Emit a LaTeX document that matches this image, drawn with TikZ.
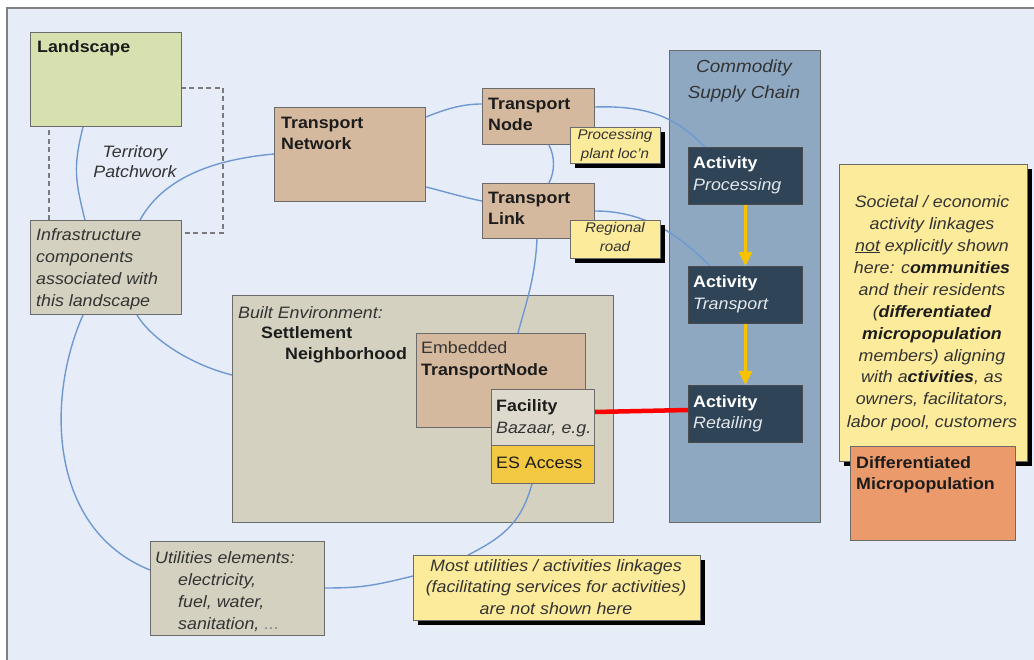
\documentclass[tikz,border=0pt]{standalone}
\usepackage{fontspec}
\setmainfont{Liberation Sans}[FakeStretch=1.08]
\usetikzlibrary{arrows.meta,shadows}

\definecolor{canvas}{HTML}{E6EDF8}
\definecolor{framegray}{HTML}{808080}
\definecolor{edgegray}{HTML}{6B6B6B}
\definecolor{landgreen}{HTML}{D6E1AF}
\definecolor{infragray}{HTML}{D4D1C1}
\definecolor{tanbox}{HTML}{D5B99E}
\definecolor{notey}{HTML}{FCEB9B}
\definecolor{chainblue}{HTML}{8EA8C2}
\definecolor{actdark}{HTML}{2F4457}
\definecolor{salmon}{HTML}{EA9A6B}
\definecolor{esyellow}{HTML}{F3C842}
\definecolor{linkblue}{HTML}{6F98D2}
\definecolor{flow}{HTML}{F7C300}
\definecolor{ink}{HTML}{1C1C1C}
\definecolor{softink}{HTML}{333333}
\definecolor{paleink}{HTML}{E4E8EC}

\pgfdeclarelayer{under}
\pgfdeclarelayer{links}
\pgfsetlayers{under,links,main}

% multi-line text nodes are anchored at the baseline of their last line
\tikzset{
  box/.style={draw=edgegray, line width=1pt, inner sep=0pt, anchor=north west},
  notebox/.style={box, fill=notey,
    drop shadow={shadow xshift=4.5pt, shadow yshift=-4.5pt, fill=black, opacity=1}},
  actbox/.style={box, draw=black!70, fill=actdark, minimum width=114pt, minimum height=57pt},
  conn/.style={draw=linkblue, line width=1.4pt},
  flowarrow/.style={draw=flow, line width=3pt, -{Triangle[width=13pt,length=14pt]}},
  txt/.style={inner sep=0pt, anchor=base west, align=left, text=ink,
    font=\fontsize{16.5}{21.5}\selectfont},
  itxt/.style={txt, text=softink, font=\fontsize{16.5}{21.5}\selectfont\itshape},
  ctxt/.style={txt, anchor=base, align=center},
  btxt/.style={txt, font=\fontsize{16.5}{21.5}\selectfont\bfseries},
}

\begin{document}
\begin{tikzpicture}[x=1pt, y=-1pt]
\useasboundingbox (0,0) rectangle (1034,660);

\begin{pgfonlayer}{under}
  % canvas and its frame
  \fill[white] (0,0) rectangle (1034,660);
  \fill[canvas] (7,8) rectangle (1034,660);
  \draw[framegray, line width=1.8pt] (7,660) -- (7,8) -- (1034,8);
  % territory patchwork frame
  \draw[edgegray!90, line width=1.3pt, dash pattern=on 5pt off 3.5pt] (49,88) rectangle (223,233);
  % large containers
  \node[box, fill=chainblue, minimum width=151pt, minimum height=472pt] (chain) at (669,50) {};
  \node[box, fill=infragray, minimum width=381pt, minimum height=227pt] (benv) at (232,295) {};
\end{pgfonlayer}

% landscape side
\node[box, fill=landgreen, minimum width=151pt, minimum height=94pt] (land) at (30,32) {};
\node[box, fill=infragray, minimum width=151pt, minimum height=94pt] (infra) at (30,220) {};
\node[btxt] (landT) at (37,53) {Landscape};
\node[ctxt, text=softink, font=\fontsize{16.5}{20}\selectfont\itshape] (terrT) at (135,178) {Territory\\Patchwork};
\node[itxt, font=\fontsize{16.5}{22}\selectfont\itshape] (infraT) at (36,307) {Infrastructure\\components\\associated with\\this landscape};

% transport boxes
\node[box, fill=tanbox, minimum width=151pt, minimum height=94pt] (tnet) at (274,107) {};
\node[box, fill=tanbox, minimum width=112pt, minimum height=56pt] (tnode) at (482,88) {};
\node[box, fill=tanbox, minimum width=112pt, minimum height=55pt] (tlink) at (482,183) {};
\node[btxt, font=\fontsize{16.5}{20.5}\selectfont\bfseries] (tnetT) at (281,149.5) {Transport\\Network};
\node[btxt, font=\fontsize{16.5}{21}\selectfont\bfseries] (tnodeT) at (488,131) {Transport\\Node};
\node[btxt, font=\fontsize{16.5}{20.5}\selectfont\bfseries] (tlinkT) at (488,224.5) {Transport\\Link};

% built environment
\node[itxt, font=\fontsize{16.5}{21}\selectfont\itshape] (benvT) at (238,360)
  {Built Environment:\\\hspace*{23pt}{\upshape\bfseries\color{ink}Settlement}\\\hspace*{47pt}{\upshape\bfseries\color{ink}Neighborhood}};
\node[box, fill=tanbox, minimum width=169pt, minimum height=94pt] (emb) at (416,333) {};
\node[txt, text=softink, font=\fontsize{16.5}{22}\selectfont] (embT) at (421,376) {Embedded\\{\bfseries\color{ink}TransportNode}};
\node[box, fill=infragray!80!white, minimum width=103pt, minimum height=56pt] (fac) at (491,389) {};
\node[box, fill=esyellow, minimum width=103pt, minimum height=38pt] (esacc) at (491,445) {};
\node[btxt, font=\fontsize{16.5}{22}\selectfont\bfseries] (facT) at (496,433) {Facility\\{\mdseries\itshape\color{softink}Bazaar, e.g.}};
\node[txt] (esT) at (496,468) {ES Access};

% utilities
\node[box, fill=infragray, minimum width=174pt, minimum height=94pt] (util) at (150,541) {};
\node[itxt, font=\fontsize{16.5}{22}\selectfont\itshape] (utilT) at (155,629)
  {Utilities elements:\\\hspace*{23pt}electricity,\\\hspace*{23pt}fuel, water,\\\hspace*{23pt}sanitation, {\color{softink!60}...}};

% supply chain
\node[ctxt, text=softink, font=\fontsize{17.5}{25.5}\selectfont\itshape] (chainT) at (744,98.5) {Commodity\\Supply Chain};
\node[actbox] (actP) at (688,147) {};
\node[actbox] (actT) at (688,266) {};
\node[actbox] (actR) at (688,385) {};
\node[btxt, text=white, font=\fontsize{16.5}{21.5}\selectfont\bfseries] (actPT) at (693,190.5) {Activity\\{\mdseries\itshape\color{paleink}Processing}};
\node[btxt, text=white, font=\fontsize{16.5}{21.5}\selectfont\bfseries] (actTT) at (693,309.5) {Activity\\{\mdseries\itshape\color{paleink}Transport}};
\node[btxt, text=white, font=\fontsize{16.5}{21.5}\selectfont\bfseries] (actRT) at (693,428.5) {Activity\\{\mdseries\itshape\color{paleink}Retailing}};
\draw[flowarrow] (actP.south) -- (actT.north);
\draw[flowarrow] (actT.south) -- (actR.north);

% notes
\node[notebox, minimum width=90pt, minimum height=36pt] (procN) at (570,127) {};
\node[ctxt, text=softink, font=\fontsize{14}{19}\selectfont\itshape] (procT) at (615,159) {Processing\\plant loc'n};
\node[notebox, minimum width=90pt, minimum height=38pt] (roadN) at (570,220) {};
\node[ctxt, text=softink, font=\fontsize{14}{19}\selectfont\itshape] (roadT) at (615,252) {Regional\\road};

\node[notebox, minimum width=287pt, minimum height=65pt] (most) at (413,555) {};
\node[ctxt, text=softink, font=\fontsize{16.5}{21.5}\selectfont\itshape] (mostT) at (556,614)
  {Most utilities / activities linkages\\(facilitating services for activities)\\are not shown here};

\node[notebox, minimum width=188pt, minimum height=297pt] (soc) at (839,164) {};
\node[ctxt, text=softink, font=\fontsize{16.5}{22}\selectfont\itshape] (socT) at (932,427)
  {Societal / economic\\activity linkages\\\underline{not} explicitly shown\\here: c{\bfseries\color{ink}ommunities}\\and their residents\\({\bfseries\color{ink}differentiated}\\{\bfseries\color{ink}micropopulation}\\members) aligning\\with a{\bfseries\color{ink}ctivities}, as\\owners, facilitators,\\labor pool, customers};
\node[box, fill=salmon, minimum width=165pt, minimum height=94pt] (micro) at (850,446) {};
\node[btxt, font=\fontsize{16.5}{21}\selectfont\bfseries] (microT) at (856,489) {Differentiated\\Micropopulation};

% connectors
\begin{pgfonlayer}{links}
  \draw[conn] ([xshift=53pt]land.south west) .. controls +(-10,40) and +(-10,-40) .. ([xshift=55pt]infra.north west);
  \draw[conn] ([xshift=110pt]infra.north west) .. controls +(25,-45) and +(-55,5) .. ([yshift=-47pt]tnet.north west);
  \draw[conn] ([yshift=-10pt]tnet.north east) .. controls +(20,-8) and +(-20,0) .. ([yshift=-16pt]tnode.north west);
  \draw[conn] ([yshift=-80pt]tnet.north east) .. controls +(20,5) and +(-20,-4) .. ([yshift=-18pt]tlink.north west);
  \draw[conn] ([yshift=-19pt]tnode.north east) .. controls +(60,-2) and +(-25,-25) .. ([xshift=17pt]actP.north west);
  \draw[conn] ([yshift=-28pt]tlink.north east) .. controls +(55,0) and +(-25,-25) .. ([xshift=22pt]actT.north west);
  \draw[conn] ([xshift=67pt]tnode.south west) .. controls +(6,12) and +(6,-12) .. ([xshift=67pt]tlink.north west);
  \draw[conn] ([xshift=55pt]tlink.south west) .. controls +(-2,40) and +(8,-30) .. ([xshift=102pt]emb.north west);
  \draw[conn] ([xshift=107pt]infra.south west) .. controls +(15,25) and +(-40,-10) .. ([yshift=-80pt]benv.north west);
  \draw[conn] ([xshift=53pt]infra.south west) .. controls +(-38,86) and +(-100,-40) .. ([yshift=-29pt]util.north west);
  \draw[conn] ([yshift=-47pt]util.north east) .. controls +(35,0) and +(-40,10) .. ([yshift=-21pt]most.north west);
  \draw[conn] ([xshift=41pt]esacc.south west) .. controls +(-10,35) and +(40,-20) .. ([xshift=55pt]most.north west);
\end{pgfonlayer}

% facility to retailing
\draw[red, line width=4.5pt] ([yshift=-23pt]fac.north east) -- ([yshift=-25pt]actR.north west);
\end{tikzpicture}
\end{document}
